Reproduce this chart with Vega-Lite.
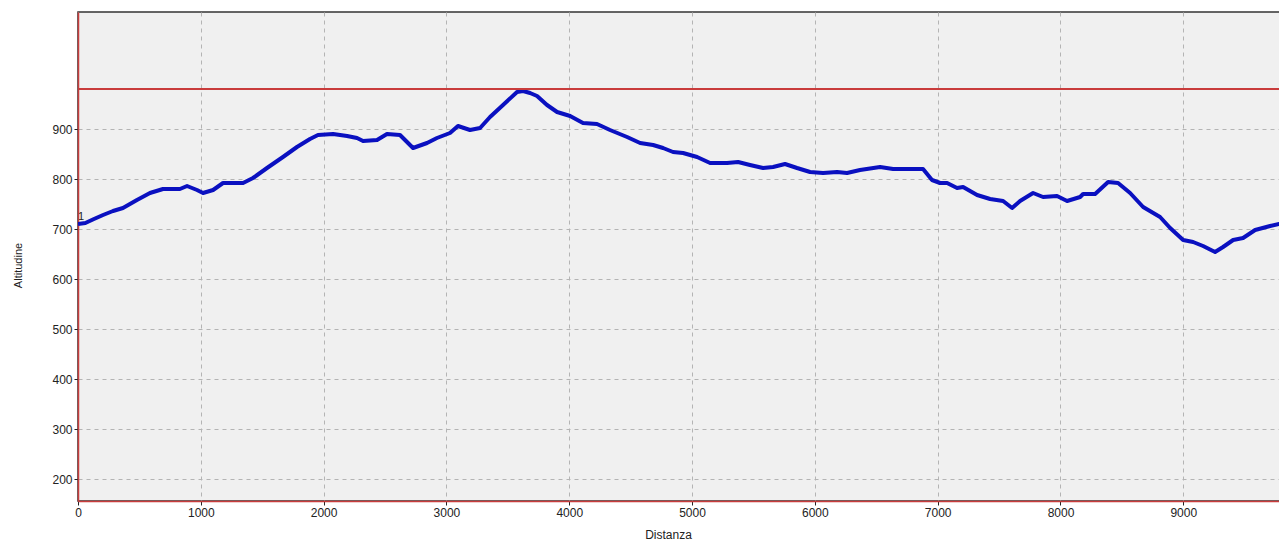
{
  "$schema": "https://vega.github.io/schema/vega-lite/v6.json",
  "autosize": {"type": "none"},
  "width": 1205,
  "height": 489,
  "padding": {"left": 78, "top": 12, "right": 0, "bottom": 39},
  "background": "#ffffff",
  "config": {
    "view": {"fill": "#f0f0f0", "stroke": "#333333", "strokeWidth": 1.5},
    "axis": {
      "labelFont": "Liberation Sans",
      "labelFontSize": 12,
      "labelColor": "#222222",
      "titleFont": "Liberation Sans",
      "titleFontSize": 12,
      "titleFontWeight": "normal",
      "titleColor": "#222222",
      "domainColor": "#c83c3c",
      "domainWidth": 1.5,
      "tickColor": "#222222",
      "tickSize": 4,
      "grid": true,
      "gridColor": "#b4b4b4",
      "gridDash": [4, 4],
      "gridWidth": 1,
      "zindex": 1
    }
  },
  "datasets": {
    "profilo": [
      {"distanza": 0, "altitudine": 710},
      {"distanza": 60, "altitudine": 712},
      {"distanza": 130, "altitudine": 720},
      {"distanza": 204, "altitudine": 728},
      {"distanza": 285, "altitudine": 736},
      {"distanza": 366, "altitudine": 742},
      {"distanza": 480, "altitudine": 758},
      {"distanza": 586, "altitudine": 772},
      {"distanza": 692, "altitudine": 780},
      {"distanza": 830, "altitudine": 780},
      {"distanza": 888, "altitudine": 786},
      {"distanza": 969, "altitudine": 778},
      {"distanza": 1018, "altitudine": 772},
      {"distanza": 1100, "altitudine": 778},
      {"distanza": 1181, "altitudine": 792},
      {"distanza": 1344, "altitudine": 792},
      {"distanza": 1425, "altitudine": 802},
      {"distanza": 1539, "altitudine": 822},
      {"distanza": 1669, "altitudine": 844},
      {"distanza": 1783, "altitudine": 864},
      {"distanza": 1889, "altitudine": 880},
      {"distanza": 1954, "altitudine": 888},
      {"distanza": 2077, "altitudine": 890},
      {"distanza": 2191, "altitudine": 886},
      {"distanza": 2272, "altitudine": 882},
      {"distanza": 2321, "altitudine": 876},
      {"distanza": 2435, "altitudine": 878},
      {"distanza": 2516, "altitudine": 890},
      {"distanza": 2622, "altitudine": 888},
      {"distanza": 2728, "altitudine": 862},
      {"distanza": 2842, "altitudine": 872},
      {"distanza": 2923, "altitudine": 882},
      {"distanza": 3029, "altitudine": 892},
      {"distanza": 3094, "altitudine": 906},
      {"distanza": 3192, "altitudine": 898},
      {"distanza": 3274, "altitudine": 902},
      {"distanza": 3355, "altitudine": 924},
      {"distanza": 3461, "altitudine": 948},
      {"distanza": 3575, "altitudine": 974},
      {"distanza": 3624, "altitudine": 976},
      {"distanza": 3681, "altitudine": 972},
      {"distanza": 3738, "altitudine": 966},
      {"distanza": 3819, "altitudine": 948},
      {"distanza": 3901, "altitudine": 934},
      {"distanza": 4007, "altitudine": 926},
      {"distanza": 4112, "altitudine": 912},
      {"distanza": 4226, "altitudine": 910},
      {"distanza": 4332, "altitudine": 898},
      {"distanza": 4471, "altitudine": 884},
      {"distanza": 4577, "altitudine": 872},
      {"distanza": 4683, "altitudine": 868},
      {"distanza": 4764, "altitudine": 862},
      {"distanza": 4845, "altitudine": 854},
      {"distanza": 4927, "altitudine": 852},
      {"distanza": 5041, "altitudine": 844},
      {"distanza": 5147, "altitudine": 832},
      {"distanza": 5285, "altitudine": 832},
      {"distanza": 5375, "altitudine": 834},
      {"distanza": 5472, "altitudine": 828},
      {"distanza": 5578, "altitudine": 822},
      {"distanza": 5660, "altitudine": 824},
      {"distanza": 5757, "altitudine": 830},
      {"distanza": 5855, "altitudine": 822},
      {"distanza": 5961, "altitudine": 814},
      {"distanza": 6067, "altitudine": 812},
      {"distanza": 6181, "altitudine": 814},
      {"distanza": 6262, "altitudine": 812},
      {"distanza": 6368, "altitudine": 818},
      {"distanza": 6531, "altitudine": 824},
      {"distanza": 6637, "altitudine": 820},
      {"distanza": 6881, "altitudine": 820},
      {"distanza": 6954, "altitudine": 798},
      {"distanza": 7020, "altitudine": 792},
      {"distanza": 7077, "altitudine": 792},
      {"distanza": 7158, "altitudine": 782},
      {"distanza": 7207, "altitudine": 784},
      {"distanza": 7321, "altitudine": 768},
      {"distanza": 7427, "altitudine": 760},
      {"distanza": 7533, "altitudine": 756},
      {"distanza": 7606, "altitudine": 742},
      {"distanza": 7671, "altitudine": 756},
      {"distanza": 7777, "altitudine": 772},
      {"distanza": 7858, "altitudine": 764},
      {"distanza": 7972, "altitudine": 766},
      {"distanza": 8054, "altitudine": 756},
      {"distanza": 8160, "altitudine": 764},
      {"distanza": 8184, "altitudine": 770},
      {"distanza": 8282, "altitudine": 770},
      {"distanza": 8388, "altitudine": 794},
      {"distanza": 8469, "altitudine": 792},
      {"distanza": 8567, "altitudine": 772},
      {"distanza": 8673, "altitudine": 744},
      {"distanza": 8811, "altitudine": 724},
      {"distanza": 8893, "altitudine": 702},
      {"distanza": 8999, "altitudine": 678},
      {"distanza": 9080, "altitudine": 674},
      {"distanza": 9161, "altitudine": 666},
      {"distanza": 9259, "altitudine": 654},
      {"distanza": 9324, "altitudine": 664},
      {"distanza": 9406, "altitudine": 678},
      {"distanza": 9487, "altitudine": 682},
      {"distanza": 9585, "altitudine": 698},
      {"distanza": 9707, "altitudine": 706},
      {"distanza": 9780, "altitudine": 710},
      {"distanza": 9830, "altitudine": 712}
    ],
    "punti": [
      {"distanza": 0, "altitudine": 710, "etichetta": "1"}
    ]
  },
  "layer": [
    {
      "data": {"name": "profilo"},
      "mark": {"type": "line", "color": "#0a10c0", "strokeWidth": 4, "clip": true, "strokeJoin": "round", "strokeCap": "butt"},
      "encoding": {
        "x": {
          "field": "distanza",
          "type": "quantitative",
          "scale": {"domain": [0, 9812], "nice": false, "zero": false},
          "axis": {
            "title": "Distanza",
            "grid": true,
            "values": [0, 1000, 2000, 3000, 4000, 5000, 6000, 7000, 8000, 9000],
            "format": "d",
            "labelPadding": 2,
            "titleX": 590,
            "titleY": 33,
            "titleAlign": "center",
            "titleBaseline": "middle",
            "labelFlush": false
          }
        },
        "y": {
          "field": "altitudine",
          "type": "quantitative",
          "scale": {"domain": [156, 1134], "nice": false, "zero": false},
          "axis": {
            "title": "Altitudine",
            "grid": true,
            "values": [200, 300, 400, 500, 600, 700, 800, 900],
            "format": "d",
            "labelPadding": 2,
            "titleX": -60,
            "titleY": 253,
            "titleAlign": "center",
            "titleBaseline": "middle",
            "titleFontSize": 11,
            "labelFlush": false
          }
        }
      }
    },
    {
      "data": {"name": "profilo"},
      "mark": {"type": "rule", "color": "#c83c3c", "strokeWidth": 1.5},
      "encoding": {
        "y": {"datum": 980, "type": "quantitative"}
      }
    },
    {
      "data": {"name": "punti"},
      "mark": {"type": "text", "align": "left", "baseline": "bottom", "dx": 0, "dy": -2, "font": "Liberation Sans", "fontSize": 11, "color": "#222222"},
      "encoding": {
        "x": {"field": "distanza", "type": "quantitative"},
        "y": {"field": "altitudine", "type": "quantitative"},
        "text": {"field": "etichetta"}
      }
    }
  ]
}
